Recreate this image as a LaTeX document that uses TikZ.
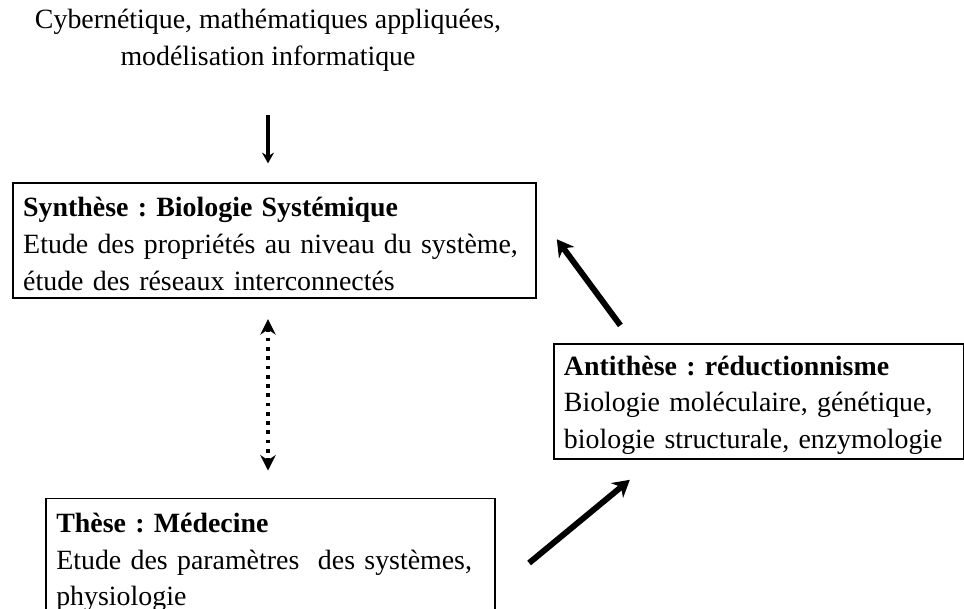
\documentclass[tikz,border=0pt]{standalone}
\usepackage{fontspec}
\setmainfont{Liberation Serif}
\usetikzlibrary{positioning, arrows.meta, calc}

\tikzset{
  boite/.style={draw, line width=0.8pt, anchor=north west, align=left, inner xsep=0.15cm, inner ysep=0pt, execute at begin node=\rule{0pt}{11pt}},
  fleche/.style={-{Stealth[length=4.5pt, width=5pt]}, line width=1.3pt},
  grosse/.style={-{Stealth[length=7pt, width=8pt]}, line width=2.5pt},
  pointille/.style={{Stealth[length=6.5pt, width=6.5pt]}-{Stealth[length=6.5pt, width=6.5pt]}, line width=1.5pt, dash pattern=on 1.5pt off 2.4pt}
}

\begin{document}
\frenchspacing
\begin{tikzpicture}[font=\fontsize{11.75}{15.4}\selectfont]

\useasboundingbox (0,0) rectangle (14.28, 9.01);

\node[align=center] (cyber) at (3.97, 8.415) {Cybernétique, mathématiques appliquées,\\ modélisation informatique};

\node[boite, text width=7.45cm, minimum height=1.70cm] (synth) at (0.18, 6.31) {\textbf{Synthèse : Biologie Systémique}\\ Etude des propriétés au niveau du système,\\ étude des réseaux interconnectés};

\node[boite, text width=5.78cm, minimum height=1.71cm] (antith) at (8.19, 3.93) {\textbf{Antithèse : réductionnisme}\\ Biologie moléculaire, génétique,\\ biologie structurale, enzymologie};

\node[boite, text width=6.35cm, minimum height=1.80cm] (these) at (0.67, 1.64) {\textbf{Thèse : Médecine}\\ Etude des paramètres~ des systèmes,\\ physiologie};

\draw[fleche, shorten <=0.53cm, shorten >=0.28cm] (cyber.south) -- (cyber.south |- synth.north);
\draw[pointille, shorten <=0.30cm, shorten >=0.40cm] (synth.south -| cyber.south) -- (these.north -| cyber.south);
\draw[grosse] ($(antith.north west)+(1.00,0.26)$) -- ($(synth.east)+(0.29,0.02)$);
\draw[grosse] ($(these.north east)+(0.49,-0.97)$) -- ($(antith.south west)+(1.14,-0.29)$);

\end{tikzpicture}
\end{document}
